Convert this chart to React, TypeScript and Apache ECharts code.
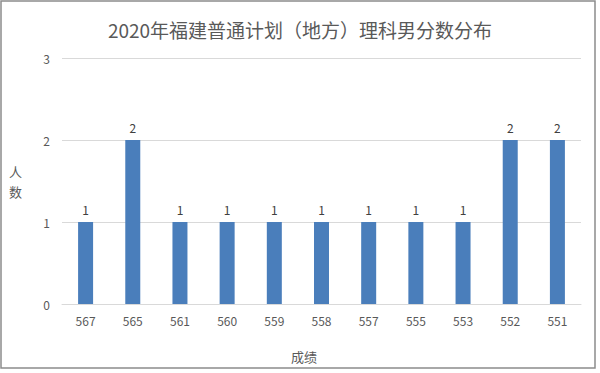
import React, { useEffect, useRef } from "react";
import * as echarts from "echarts";

const categories = ["567", "565", "561", "560", "559", "558", "557", "555", "553", "552", "551"];
const counts = [1, 2, 1, 1, 1, 1, 1, 1, 1, 2, 2];
const titleText = "2020年福建普通计划（地方）理科男分数分布";
const xName = "成绩";
const yName = "人\n数";

const FONT = '"Noto Sans CJK SC", "Noto Sans", sans-serif';

export default function App() {
  const ref = useRef<HTMLDivElement>(null);
  useEffect(() => {
    if (!ref.current) return;
    const chart = echarts.init(ref.current, undefined, { renderer: "svg" });
    chart.setOption({
      animation: false,
      textStyle: { fontFamily: FONT },
      title: {
        text: titleText,
        left: "center",
        top: 15,
        textStyle: { fontSize: 19, fontWeight: "normal", color: "#595959", fontFamily: FONT },
      },
      graphic: [
        {
          type: "rect",
          shape: { x: 1, y: 1, width: 594, height: 367 },
          style: { fill: "none", stroke: "#8c8c8c", lineWidth: 1.5 },
          silent: true,
        },
      ],
      grid: { left: 62, right: 19, top: 58, bottom: 69, containLabel: false },
      xAxis: {
        type: "category",
        data: categories,
        name: xName,
        nameLocation: "middle",
        nameGap: 46,
        nameTextStyle: { fontSize: 13, color: "#595959", padding: [0, 35, 0, 0] },
        axisLine: { lineStyle: { color: "#d9d9d9" } },
        axisTick: { show: false },
        axisLabel: { fontSize: 12, color: "#595959", margin: 10 },
      },
      yAxis: {
        type: "value",
        min: 0,
        max: 3,
        interval: 1,
        name: yName,
        nameLocation: "middle",
        nameRotate: 0,
        nameGap: 40,
        nameTextStyle: { fontSize: 13, color: "#595959", lineHeight: 20 },
        axisLine: { show: false },
        axisTick: { show: false },
        axisLabel: { fontSize: 12, color: "#595959", margin: 12 },
        splitLine: { lineStyle: { color: "#d9d9d9" } },
      },
      series: [
        {
          type: "bar",
          data: counts,
          barWidth: 15,
          itemStyle: { color: "#4a7ebb" },
          label: { show: true, position: "top", distance: 7, fontSize: 12, color: "#404040" },
        },
      ],
    });
    return () => chart.dispose();
  }, []);
  return (
    <div
      ref={ref}
      style={{ position: "fixed", left: 0, top: 0, width: 600, height: 373, background: "#fff" }}
    />
  );
}
